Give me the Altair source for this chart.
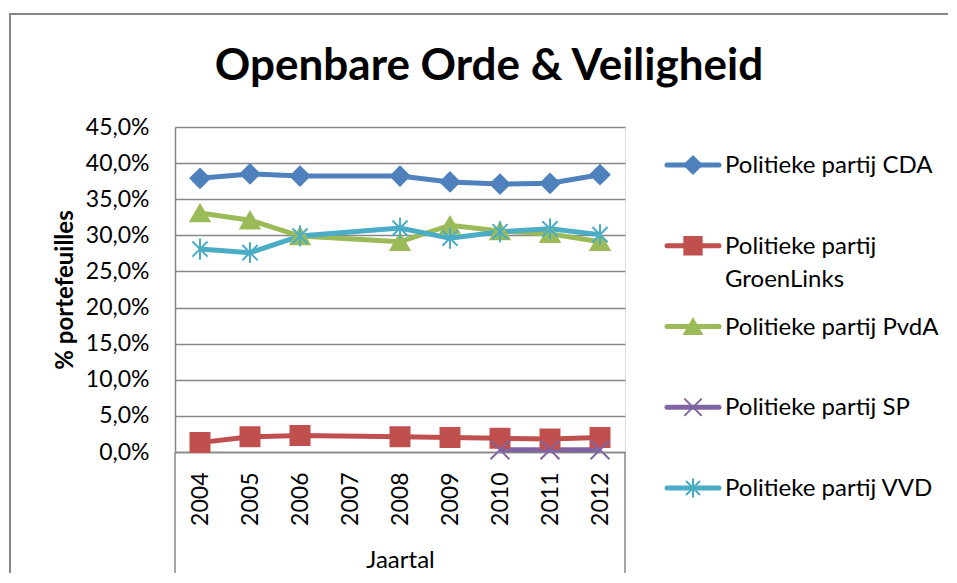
import altair as alt
import pandas as pd

title_text = "Openbare Orde & Veiligheid"
years = ["2004", "2005", "2006", "2007", "2008", "2009", "2010", "2011", "2012"]
parties = ["Politieke partij CDA", "Politieke partij GroenLinks", "Politieke partij PvdA",
           "Politieke partij SP", "Politieke partij VVD"]
legend_labels = ["Politieke partij CDA", "Politieke partij\nGroenLinks", "Politieke partij PvdA",
                 "Politieke partij SP", "Politieke partij VVD"]
colors = ["#4F81BD", "#C0504D", "#9BBB59", "#8064A2", "#4BACC6"]
shapes = ["diamond", "square", "triangle-up",
          "M-1,-1L1,1M-1,1L1,-1",
          "M0,-1.1L0,1.1M-0.8,-0.8L0.8,0.8M-0.8,0.8L0.8,-0.8"]

# % portefeuilles per year (None = no value)
cda = [37.9, 38.5, 38.2, None, 38.2, 37.4, 37.1, 37.2, 38.4]
groenlinks = [1.3, 2.1, 2.3, None, 2.1, 2.0, 1.9, 1.8, 2.0]
pvda = [33.1, 32.1, 29.9, None, 29.1, 31.4, 30.6, 30.2, 29.1]
sp = [None, None, None, None, None, None, 0.3, 0.3, 0.3]
vvd = [28.1, 27.6, 29.9, None, 31.0, 29.6, 30.5, 30.9, 30.1]

series = [cda, groenlinks, pvda, sp, vvd]
rows = []
for party, vals in zip(parties, series):
    for yr, v in zip(years, vals):
        if v is not None:
            rows.append({"jaar": yr, "party": party, "pct": v})
df = pd.DataFrame(rows)
leg = pd.DataFrame({"party": parties, "label": legend_labels})

GRAY = "#878787"
FONT = "Lato"

color_scale = alt.Scale(domain=parties, range=colors)
shape_scale = alt.Scale(domain=parties, range=shapes)
x_enc = alt.X("jaar:O", scale=alt.Scale(domain=years, type="point", padding=0.5),
              axis=alt.Axis(title="Jaartal", labelAngle=270, labelFontSize=23, labelFont=FONT,
                            labelPadding=20, ticks=False, domainColor=GRAY, domainWidth=1.5,
                            titleFont=FONT, titleFontSize=24, titleFontWeight="normal",
                            titlePadding=23, labelColor="black", titleColor="black"))
y_scale = alt.Scale(domain=[0, 45], nice=False)

base = alt.Chart(df)
one = alt.Data(values=[{}])

frame = alt.Chart(one).mark_rect(fillOpacity=0, stroke=GRAY, strokeWidth=2).encode(
    x=alt.value(-165), x2=alt.value(900), y=alt.value(-113), y2=alt.value(600))
left_rule = alt.Chart(one).mark_rule(color=GRAY, strokeWidth=1.5).encode(
    x=alt.value(0), y=alt.value(325), y2=alt.value(470))
right_rule = alt.Chart(one).mark_rule(color=GRAY, strokeWidth=1.5).encode(
    x=alt.value(450), y=alt.value(325), y2=alt.value(470))
title = alt.Chart(one).mark_text(align="center", baseline="alphabetic", fontSize=44, font=FONT,
                                 fontWeight="bold", color="black").encode(
    x=alt.value(314), y=alt.value(-47), text=alt.value(title_text))

lines = base.mark_line(strokeWidth=5).encode(
    x=x_enc,
    y=alt.Y("pct:Q", scale=y_scale,
            axis=alt.Axis(title="% portefeuilles", values=list(range(0, 50, 5)),
                          labelExpr="replace(format(datum.value, '.1f'), '.', ',') + '%'",
                          labelFontSize=23, labelFont=FONT, labelPadding=26, ticks=False,
                          domainColor=GRAY, domainWidth=1.5, gridColor=GRAY, gridWidth=1.5,
                          titleFont=FONT, titleFontSize=24, titleFontWeight="bold",
                          titlePadding=8, labelColor="black", titleColor="black")),
    color=alt.Color("party:N", scale=color_scale, legend=None),
    detail="party:N",
)
points = base.mark_point(filled=True, size=360, strokeWidth=2, opacity=1).encode(
    x=x_enc,
    y=alt.Y("pct:Q", scale=y_scale, axis=None),
    color=alt.Color("party:N", scale=color_scale, legend=None),
    stroke=alt.Stroke("party:N", scale=color_scale, legend=None),
    shape=alt.Shape("party:N", scale=shape_scale, legend=None),
)

leg_y = alt.Y("party:N", scale=alt.Scale(type="point", domain=parties, range=[38, 361], padding=0),
              axis=None)
leg_base = alt.Chart(leg)
leg_rule = leg_base.mark_rule(strokeWidth=5, strokeCap="round").encode(
    x=alt.value(492), x2=alt.value(544), y=leg_y,
    color=alt.Color("party:N", scale=color_scale, legend=None))
leg_point = leg_base.mark_point(filled=True, size=300, strokeWidth=2, opacity=1).encode(
    x=alt.value(518), y=leg_y,
    color=alt.Color("party:N", scale=color_scale, legend=None),
    stroke=alt.Stroke("party:N", scale=color_scale, legend=None),
    shape=alt.Shape("party:N", scale=shape_scale, legend=None))
leg_text = leg_base.mark_text(align="left", baseline="top", dy=-11, lineBreak="\n", lineHeight=33,
                              fontSize=24, font=FONT, color="black").encode(
    x=alt.value(550), y=leg_y, text="label:N")

chart = alt.layer(frame, left_rule, right_rule, title, lines, points,
                  leg_rule, leg_point, leg_text).resolve_scale(
    y="independent"
).properties(
    width=450, height=325,
    padding={"left": 167, "top": 119, "right": 323, "bottom": 121},
    autosize=alt.AutoSizeParams(type="none"),
).configure_view(stroke=None).configure(background="white")

chart.save("out.html", embed_options={"renderer": "svg", "actions": False})
